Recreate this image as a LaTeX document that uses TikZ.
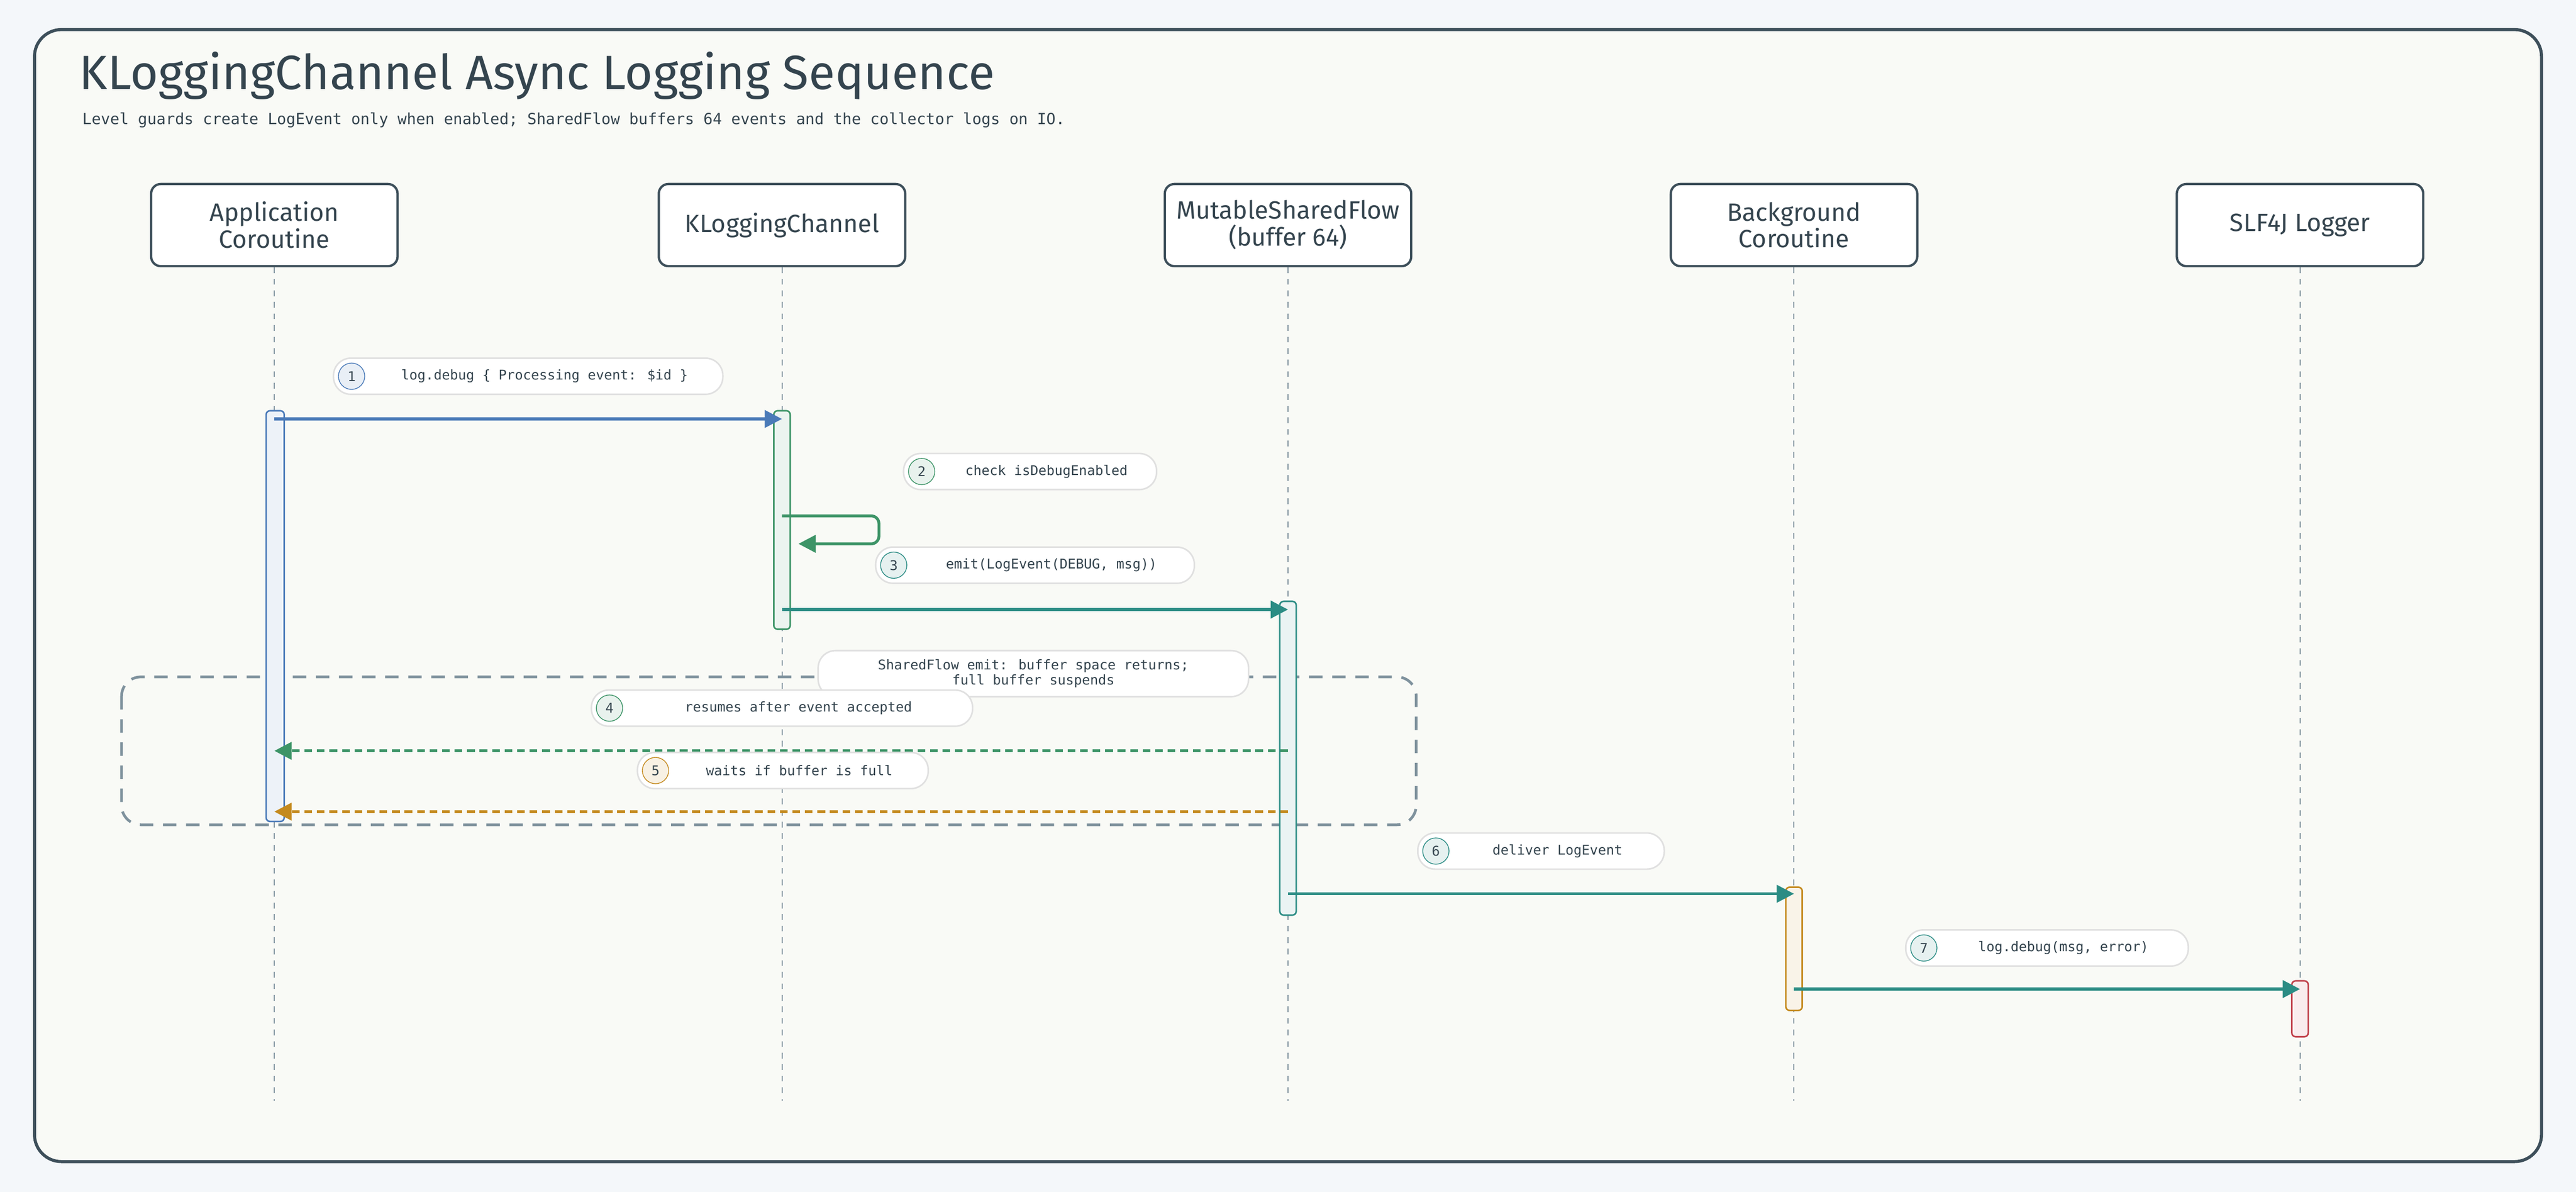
\documentclass[tikz,border=0pt]{standalone}
\usepackage{fontspec}
\setmainfont{Fira Sans}
\newfontfamily\monof{DejaVu Sans Mono}
\usetikzlibrary{arrows.meta}
\definecolor{ink}{HTML}{34444E}
\definecolor{frame}{HTML}{3D4F5A}
\definecolor{grp}{HTML}{7F929D}
\definecolor{pagebg}{HTML}{F4F7FA}
\definecolor{panelbg}{HTML}{F9FAF6}
\definecolor{cblue}{HTML}{4A7AB8}
\definecolor{cgreen}{HTML}{3D9467}
\definecolor{cteal}{HTML}{2B8C84}
\definecolor{corange}{HTML}{C48A1E}
\definecolor{cred}{HTML}{C0404A}
\tikzset{head/.style={draw=frame, line width=1.2pt, rounded corners=5pt, fill=white,
         minimum width=4.5cm, minimum height=1.5cm, align=center, font=\fontsize{13}{14}\selectfont, text=ink},
         act/.style={draw=#1, fill=#1!10, line width=0.8pt, rounded corners=2pt},
         msg/.style={draw=#1, line width=1.5pt, -{Triangle[length=9pt,width=9pt]}},
         ret/.style={msg=#1, dash pattern=on 4pt off 2.5pt},
         pill/.style={draw=black!12, fill=white, line width=0.8pt, rounded corners=9pt, minimum height=0.66cm},
         num/.style={circle, draw=#1, fill=#1!12, inner sep=0pt, minimum size=0.48cm, font=\monof\fontsize{7}{8}\selectfont, text=ink},
         lbl/.style={font=\monof\fontsize{7}{8}\selectfont, text=ink, align=center}}
% step label: num colour, index, left x, right x, centre y, text
\newcommand{\steplabel}[6]{%
  \draw[pill] (#3,#5-11) rectangle (#4,#5+11);
  \node[num=#1] (n#2) at (#3+11,#5) {#2};
  \node[lbl] (t#2) at ({(#3+#4)/2+10},#5) {#6};}
\begin{document}
\begin{tikzpicture}[x=0.03cm, y=-0.03cm]
  \fill[pagebg] (0,0) rectangle (1568,725.5);
  \useasboundingbox (0,0) rectangle (1568,725.5);
  \draw[frame, line width=1.6pt, rounded corners=14pt, fill=panelbg] (21,18) rectangle (1547,707);

  % title
  \node[anchor=west, text=ink, font=\fontsize{25}{28}\selectfont] (title) at (44,46) {KLoggingChannel Async Logging Sequence};
  \node[anchor=west, text=ink, font=\monof\fontsize{8}{9}\selectfont] (sub) at (46,73) {Level guards create LogEvent only when enabled; SharedFlow buffers 64 events and the collector logs on IO.};

  % participants
  \node[head] (app) at (167,137) {Application\\Coroutine};
  \node[head] (klc) at (476,137) {KLoggingChannel};
  \node[head] (msf) at (784,137) {MutableSharedFlow\\(buffer 64)};
  \node[head] (bg)  at (1092,137) {Background\\Coroutine};
  \node[head] (slf) at (1400,137) {SLF4J Logger};
  \foreach \p in {app,klc,msf,bg,slf}
    \draw[grp, dashed, line width=0.6pt] (\p.south) -- (\p.south |- 0,670);

  % group box
  \draw[grp, line width=1.4pt, dash pattern=on 7pt off 5pt, rounded corners=10pt] (74,412) rectangle (862,502);

  % activations
  \draw[act=cblue] (162,250) rectangle (173,500);
  \draw[act=cgreen] (471,250) rectangle (481,383);
  \draw[act=cteal] (779,366) rectangle (789,557);
  \draw[act=corange] (1087,540) rectangle (1097,615);
  \draw[act=cred] (1395,597) rectangle (1405,631);

  % messages
  \steplabel{cblue}{1}{203}{440}{229}{log.debug \{ Processing event: \$id \}}
  \draw[msg=cblue] (167,255) -- (476,255);
  \steplabel{cgreen}{2}{550}{704}{287}{check isDebugEnabled}
  \draw[msg=cgreen, rounded corners=4pt] (476,314) -- (535,314) -- (535,331) -- (486,331);
  \steplabel{cteal}{3}{533}{727}{344}{emit(LogEvent(DEBUG, msg))}
  \draw[msg=cteal] (476,371) -- (784,371);
  \draw[pill] (498,396) rectangle (760,424);
  \node[lbl] (note) at (629,410) {SharedFlow emit: buffer space returns;\\full buffer suspends};
  \steplabel{cgreen}{4}{360}{592}{431}{resumes after event accepted}
  \draw[ret=cgreen] (784,457) -- (167,457);
  \steplabel{corange}{5}{388}{565}{469}{waits if buffer is full}
  \draw[ret=corange] (784,494) -- (167,494);
  \steplabel{cteal}{6}{863}{1013}{518}{deliver LogEvent}
  \draw[msg=cteal] (784,544) -- (1092,544);
  \steplabel{cteal}{7}{1160}{1332}{577}{log.debug(msg, error)}
  \draw[msg=cteal] (1092,602) -- (1400,602);
\end{tikzpicture}
\end{document}
